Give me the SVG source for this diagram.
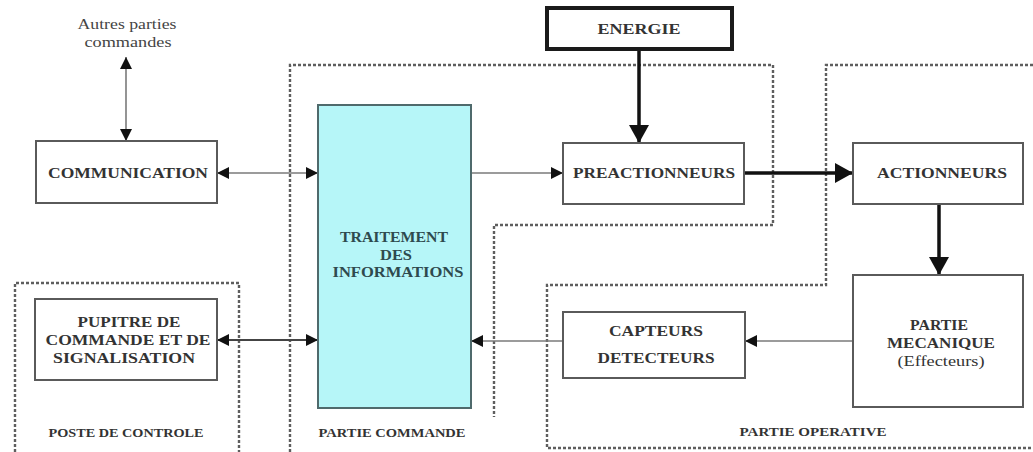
<svg xmlns="http://www.w3.org/2000/svg" width="1033" height="452" viewBox="0 0 1033 452">
<style>
.box{fill:#fff;stroke:#5a5a5a;stroke-width:2}
.cyan{fill:#b6f6f8;stroke:#4f6a6c;stroke-width:2}
.zone{fill:none;stroke:#5e5e5e;stroke-width:2.4;stroke-dasharray:3 2}
.t{font-family:"Liberation Serif","Times New Roman",serif;font-weight:bold;font-size:15px;fill:#333;text-anchor:middle}
.z{font-size:13px}
.r{font-weight:normal;font-size:14px;fill:#444}
.tc{fill:#2e4a4e}
.thin{stroke:#7a7a7a;stroke-width:1.6;fill:none}
.thick{stroke:#111;stroke-width:3.5;fill:none}
</style>
<defs>
<marker id="ah" markerUnits="userSpaceOnUse" markerWidth="12" markerHeight="12" refX="12" refY="6" orient="auto-start-reverse"><path d="M0,0 L12,6 L0,12 z" fill="#111"/></marker>
<marker id="ahb" markerUnits="userSpaceOnUse" markerWidth="18" markerHeight="20" refX="18" refY="10" orient="auto-start-reverse"><path d="M0,0 L18,10 L0,20 z" fill="#111"/></marker>
</defs>
<rect width="1033" height="452" fill="#fff"/>
<g id="zones">
<path class="zone" d="M15,452 V283 H239 V452"/>
<path class="zone" d="M290,452 V65 H773 V225 H494 V417"/>
<path class="zone" d="M1033,65 H826 V285 H547 V448 H1033"/>
<text class="t z" x="126" y="437" textLength="155" lengthAdjust="spacingAndGlyphs">POSTE DE CONTROLE</text>
<text class="t z" x="392" y="437" textLength="147" lengthAdjust="spacingAndGlyphs">PARTIE COMMANDE</text>
<text class="t z" x="813" y="436" textLength="147" lengthAdjust="spacingAndGlyphs">PARTIE OPERATIVE</text>
</g>
<g id="connectors">
<line class="thin" x1="126" y1="57" x2="126" y2="141" marker-start="url(#ah)" marker-end="url(#ah)"/>
<line class="thin" x1="217" y1="173" x2="318" y2="173" marker-start="url(#ah)" marker-end="url(#ah)"/>
<line class="thin" x1="471" y1="173" x2="563" y2="173" marker-end="url(#ah)"/>
<line class="thick" x1="639" y1="49" x2="639" y2="143" marker-end="url(#ahb)"/>
<line class="thick" x1="744" y1="173" x2="853" y2="173" marker-end="url(#ahb)"/>
<line class="thick" x1="939" y1="204" x2="939" y2="275" marker-end="url(#ahb)"/>
<line class="thin" x1="853" y1="341" x2="745" y2="341" marker-end="url(#ah)"/>
<line class="thin" x1="563" y1="341" x2="471" y2="341" marker-end="url(#ah)"/>
<line class="thin" x1="217" y1="340" x2="318" y2="340" style="stroke:#444;stroke-width:2" marker-start="url(#ah)" marker-end="url(#ah)"/>
</g>
<g id="autres">
<text class="t r" x="127" y="29" textLength="99" lengthAdjust="spacingAndGlyphs">Autres parties</text>
<text class="t r" x="128" y="47" textLength="87" lengthAdjust="spacingAndGlyphs">commandes</text>
</g>
<g id="energie">
<rect x="547" y="8" width="185" height="41" fill="#fff" stroke="#1a1a1a" stroke-width="4"/>
<text class="t" x="639" y="34" textLength="83" lengthAdjust="spacingAndGlyphs">ENERGIE</text>
</g>
<g id="communication">
<rect class="box" x="36" y="141" width="181" height="62"/>
<text class="t" x="128" y="178" textLength="160" lengthAdjust="spacingAndGlyphs">COMMUNICATION</text>
</g>
<g id="traitement">
<rect class="cyan" x="318" y="105" width="153" height="303"/>
<text class="t tc" x="394" y="242" textLength="108" lengthAdjust="spacingAndGlyphs">TRAITEMENT</text>
<text class="t tc" x="396" y="260" textLength="32" lengthAdjust="spacingAndGlyphs">DES</text>
<text class="t tc" x="398" y="277" textLength="131" lengthAdjust="spacingAndGlyphs">INFORMATIONS</text>
</g>
<g id="preactionneurs">
<rect class="box" x="563" y="143" width="181" height="61"/>
<text class="t" x="654" y="178" textLength="162" lengthAdjust="spacingAndGlyphs">PREACTIONNEURS</text>
</g>
<g id="actionneurs">
<rect class="box" x="853" y="143" width="170" height="61"/>
<text class="t" x="942" y="178" textLength="130" lengthAdjust="spacingAndGlyphs">ACTIONNEURS</text>
</g>
<g id="pupitre">
<rect class="box" x="35" y="299" width="182" height="81"/>
<text class="t" x="129" y="327" textLength="103" lengthAdjust="spacingAndGlyphs">PUPITRE DE</text>
<text class="t" x="128" y="345" textLength="165" lengthAdjust="spacingAndGlyphs">COMMANDE ET DE</text>
<text class="t" x="124" y="363" textLength="142" lengthAdjust="spacingAndGlyphs">SIGNALISATION</text>
</g>
<g id="capteurs">
<rect class="box" x="563" y="312" width="182" height="66"/>
<text class="t" x="656" y="336" textLength="94" lengthAdjust="spacingAndGlyphs">CAPTEURS</text>
<text class="t" x="656" y="363" textLength="117" lengthAdjust="spacingAndGlyphs">DETECTEURS</text>
</g>
<g id="mecanique">
<rect class="box" x="853" y="275" width="170" height="132"/>
<text class="t" x="939" y="330" textLength="58" lengthAdjust="spacingAndGlyphs">PARTIE</text>
<text class="t" x="941" y="348" textLength="108" lengthAdjust="spacingAndGlyphs">MECANIQUE</text>
<text class="t" x="941" y="366" textLength="87" lengthAdjust="spacingAndGlyphs" style="font-weight:normal">(Effecteurs)</text>
</g>
</svg>
